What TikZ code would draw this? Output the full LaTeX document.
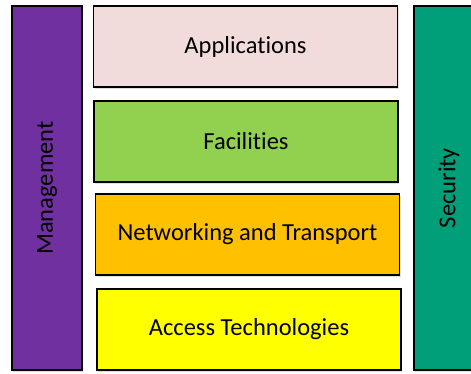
\documentclass[tikz,border=0pt]{standalone}
\usepackage{fontspec}
\setmainfont[Ligatures=NoCommon]{Carlito}
\usetikzlibrary{shadows}
\definecolor{mgmt}{HTML}{7030A0}
\definecolor{appc}{HTML}{F2DCDB}
\definecolor{facc}{HTML}{92D050}
\definecolor{netc}{HTML}{FFC000}
\definecolor{accc}{HTML}{FFFF00}
\definecolor{secc}{HTML}{009E79}
\tikzset{
  layer/.style={draw=black, line width=1.6pt, minimum width=304pt, minimum height=81pt,
    inner sep=0pt, font=\fontsize{24.5}{28}\selectfont,
    drop shadow={opacity=0.25, shadow xshift=1pt, shadow yshift=-2pt}},
  side/.style={draw=black, line width=1.6pt, rotate=90, minimum width=364pt, minimum height=70pt,
    inner sep=0pt, font=\fontsize{24.5}{28}\selectfont,
    drop shadow={opacity=0.25, shadow xshift=1pt, shadow yshift=-2pt}}
}
\begin{document}
\begin{tikzpicture}[x=1pt,y=-1pt]
\useasboundingbox[fill=white] (0,0) rectangle (471,374);
\begin{scope}
\clip (0,0) rectangle (471,374);
\node[side, fill=mgmt] (mgmt) at (47,188) {Management};
\node[side, fill=secc] (sec) at (449,188) {Security};
\node[layer, fill=appc] (app) at (245.5,46.5) {Applications};
\node[layer, fill=facc] (fac) at (246,141.5) {Facilities};
\node[layer, fill=netc] (net) at (247.5,234.5) {Networking and Transport};
\node[layer, fill=accc] (acc) at (249,329.5) {Access Technologies};
\end{scope}
\end{tikzpicture}
\end{document}
